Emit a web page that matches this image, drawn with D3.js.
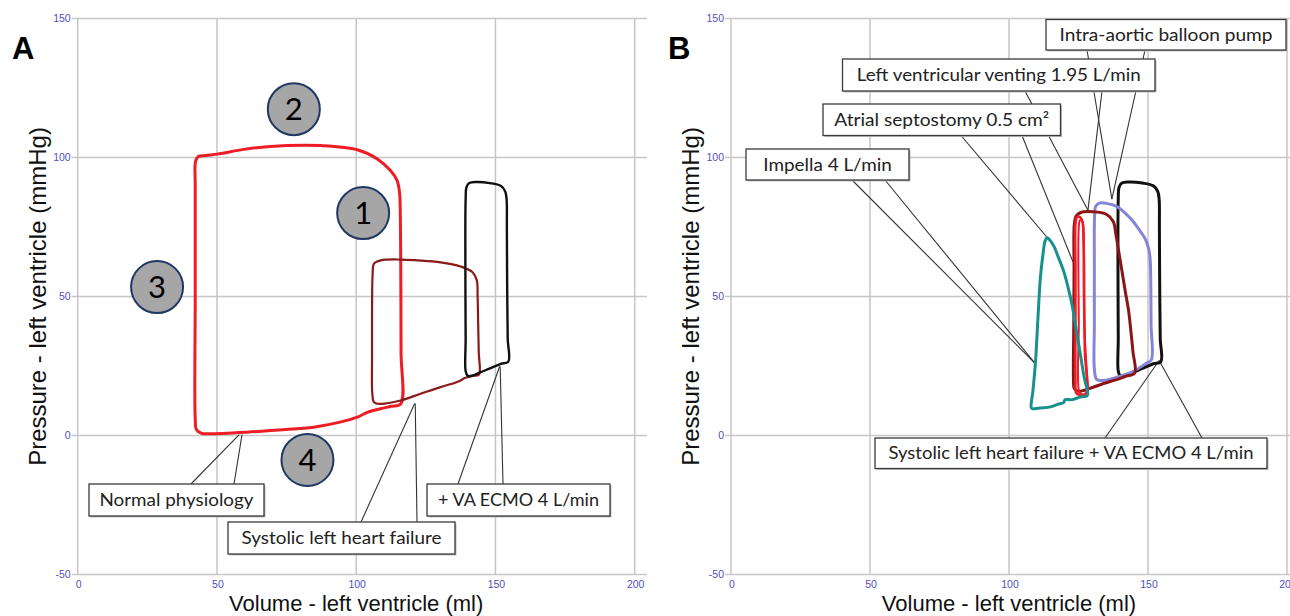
<!DOCTYPE html>
<html><head><meta charset="utf-8">
<script src="https://cdn.jsdelivr.net/npm/d3@7"></script>
<style>body{margin:0;background:#fff}svg{display:block}</style>
</head><body>
<svg id="c" width="1290" height="616"></svg>
<script>
// ---------- data (volume ml, pressure mmHg) ----------
const xTicks = [0, 50, 100, 150, 200];
const yTicks = [-50, 0, 50, 100, 150];

const normalLoop = [[116,11.4],[116.1,30],[116,60],[115.8,82],[115.6,87],[114.7,91.7],[112.3,95.3],[107.6,99.5],[100.4,102.8],[87.2,104.3],[75.2,104.3],[60.8,103.1],[50.6,101.3],[46,100.7],[43.2,100.3],[42.3,98.5],[42.2,90],[42.2,50],[42.2,6],[42.6,2.2],[44.5,0.8],[46.4,0.6],[60.8,1.2],[72,2],[84.7,3],[95,5],[100.4,6.6],[104,8.3],[108.7,9.6],[112.5,10.5]];
const heartFailureLoop = [[144.1,21.9],[144,30],[143.8,40],[143.6,50],[143.3,55.8],[141.7,58.8],[137.5,60.8],[130.3,62.3],[122,63],[116,63.3],[108.8,63],[106.4,61.8],[105.9,58],[105.7,45],[105.7,30],[105.8,15],[106.4,12],[108.7,11.4],[115.9,12.6],[123.1,15],[130.3,17.4],[135.5,19],[137.5,19.8],[139,20.7],[142.3,21.5]];
const vaEcmoLoop = [[154.6,26.5],[154.4,35],[154.2,55],[154.1,75],[154,85],[153.5,87.8],[151.9,89.8],[148,90.8],[143,91.2],[140.6,90.8],[139.6,89.3],[139.3,85],[139.2,60],[139.3,35],[139.3,23.2],[140,21.5],[141.5,21.5],[144.7,22.8],[148.5,24.3],[151.9,25.8]];
const iabpLoop = [[151.2,27.2],[151.1,40],[151,55],[150.8,63],[150.4,66.4],[149.5,69.5],[148.8,71.1],[146.5,74.5],[144.6,77.1],[141.5,80.3],[138.7,82.4],[135,83.5],[132.5,83.6],[131.2,82.5],[130.8,79],[130.7,60],[130.7,40],[130.7,24],[131.5,20.2],[133.5,19.8],[136.3,20.2],[140.5,21.5],[144.6,23],[149.4,26]];
const ventingLoop = [[145.2,22.4],[144.6,30],[144,36],[143,45],[141.8,52],[140.5,60],[139.5,66],[138.5,72],[137.5,77],[135,79.6],[130,80.5],[126,80.3],[124.2,79],[123.5,76],[123.4,60],[123.3,40],[123.2,20],[123.5,16.8],[125,15.9],[129.2,17],[134,18.7],[138.7,20.1],[142,21.3]];
const septostomyLoop = [[127.8,14.5],[127.3,30],[127,50],[126.8,70],[126.5,76.5],[125.6,78.5],[124.6,78.7],[124,77],[123.9,60],[123.9,40],[123.9,20],[124.2,15.3],[125.5,14.6]];
const septostomyLoop2 = [[127.4,15],[127.1,40],[126.8,74],[126.3,77.2],[125.5,77.4],[125.1,75],[125.1,40],[125.2,16],[126,15]];
const impellaLoop = [[128.2,14.4],[127,21],[125.6,29.6],[124.2,38],[122.6,47.4],[121.2,53.5],[119.6,59.3],[117.8,64],[116.1,68.2],[114.5,70.5],[113.7,71.1],[113,70],[112.2,65],[111.3,56.9],[110.4,42],[109.5,26],[108.6,16],[108,10],[108.5,9.6],[111,9.9],[114.9,10.3],[117.5,11.2],[119.6,11.8],[120.2,12.9],[122.6,12.9],[125.5,13.8]];

const phaseMarkers = [{n:"2", v:77.6, p:117.4},{n:"1", v:102.5, p:80},{n:"3", v:28.5, p:53.4},{n:"4", v:82.5, p:-8.8}];

// ---------- layout ----------
const Y0 = 574.5, Y150 = 18.5;
const panels = [
  {id:"A", x0:77.7, x200:634.7, right:647, letter:12, ytitle:46,
   loops:[{d:normalLoop,c:"#ee1c24",w:3},{d:heartFailureLoop,c:"#8b1a1a",w:2.2},{d:vaEcmoLoop,c:"#111",w:2.4}],
   callouts:[
    {t:"Normal physiology", box:[89,484,175,32], tl:154, side:"top", feet:[191,234], tg:[[58,0.3],[59,0.3]]},
    {t:"Systolic left heart failure", box:[228,522,227,32], tl:200, side:"top", feet:[361,417], tg:[[121,11.5],[121.2,11.5]]},
    {t:"+ VA ECMO 4 L/min", box:[427,484,183,32], tl:161, side:"top", feet:[458,503], tg:[[151.5,24.8],[151.7,24.8]]}
   ]},
  {id:"B", x0:731, x200:1287, right:1292, letter:668, ytitle:699,
   loops:[{d:vaEcmoLoop,c:"#111",w:3},{d:iabpLoop,c:"#8585d8",w:3},{d:ventingLoop,c:"#8b1515",w:3},{d:septostomyLoop,c:"#ee1c24",w:2.6},{d:septostomyLoop2,c:"#ee1c24",w:2},{d:impellaLoop,c:"#17918e",w:3}],
   callouts:[
    {t:"Intra-aortic balloon pump", box:[1046,19.5,240,30.5], tl:213, side:"bottom", feet:[1087,1145], tg:[[137,85],[137,85]]},
    {t:"Left ventricular venting 1.95 L/min", box:[842.5,59,312.5,32], tl:284, side:"bottom", feet:[1025,1102], tg:[[128.4,81],[128.4,81]]},
    {t:"Atrial septostomy 0.5 cm\u00B2", box:[823,104,237.5,31.5], tl:215, side:"bottom", feet:[961,1022], tg:[[113.6,71.4],[123,62.5]]},
    {t:"Impella 4 L/min", box:[746,149,163,31], tl:128.5, side:"bottom", feet:[852,885], tg:[[109.3,26],[109.3,26]]},
    {t:"Systolic left heart failure + VA ECMO 4 L/min", box:[875,438,392,30.5], tl:365, side:"top", feet:[1105,1202], tg:[[154,27],[154,27]]}
   ]}
];

const svg = d3.select("#c");
const y = d3.scaleLinear().domain([-50,150]).range([Y0,Y150]);
const GRID = "#c6c6c6", TICK = "#5050c0";

panels.forEach((P, pi) => {
  const x = d3.scaleLinear().domain([0,200]).range([P.x0,P.x200]);
  const g = svg.append("g");
  // grid
  g.selectAll("line.h").data(yTicks).join("line")
    .attr("x1", d => P.x0 - 6).attr("x2", P.right)
    .attr("y1", d => y(d)).attr("y2", d => y(d))
    .attr("stroke", GRID).attr("stroke-width", 1.5);
  g.selectAll("line.v").data(xTicks).join("line")
    .attr("x1", d => x(d)).attr("x2", d => x(d))
    .attr("y1", y(150)).attr("y2", y(-50))
    .attr("stroke", GRID).attr("stroke-width", 1.5);
  // tick labels
  g.selectAll("text.yt").data(yTicks).join("text")
    .attr("x", P.x0 - 7).attr("y", d => y(d) + 3.5)
    .attr("text-anchor","end").attr("font-family","Liberation Sans, Arial, sans-serif")
    .attr("font-size", 10.5).attr("fill", TICK).text(d => d);
  g.selectAll("text.xt").data(xTicks).join("text")
    .attr("x", d => x(d) + 1).attr("y", 588)
    .attr("text-anchor","middle").attr("font-family","Liberation Sans, Arial, sans-serif")
    .attr("font-size", 10.5).attr("fill", TICK).text(d => d);
  // axis titles
  g.append("text").attr("x", x(100)).attr("y", 611)
    .attr("text-anchor","middle").attr("font-family","Liberation Sans, Arial, sans-serif")
    .attr("font-size", 22).attr("fill","#111").text("Volume - left ventricle (ml)");
  g.append("text").attr("transform", `translate(${P.ytitle},${y(50)}) rotate(-90)`)
    .attr("text-anchor","middle").attr("font-family","Liberation Sans, Arial, sans-serif")
    .attr("font-size", 24).attr("fill","#111").text("Pressure - left ventricle (mmHg)");
  // panel letter
  g.append("text").attr("x", P.letter).attr("y", 59)
    .attr("font-family","Liberation Sans, Arial, sans-serif").attr("font-weight","bold")
    .attr("font-size", 31).attr("fill","#000").text(P.id);

  // leader lines
  const lg = g.append("g").attr("stroke","#333").attr("stroke-width",1.1);
  P.callouts.forEach(c => {
    const [bx,by,bw,bh] = c.box;
    const fy = c.side === "top" ? by : by + bh;
    c.feet.forEach((fx,i) => {
      lg.append("line").attr("x1", fx).attr("y1", fy)
        .attr("x2", x(c.tg[i][0])).attr("y2", y(c.tg[i][1]));
    });
  });

  // loops
  const line = d3.line().x(d => x(d[0])).y(d => y(d[1])).curve(d3.curveCatmullRomClosed.alpha(0.5));
  P.loops.forEach(L => {
    g.append("path").attr("d", line(L.d)).attr("fill","none")
      .attr("stroke", L.c).attr("stroke-width", L.w).attr("stroke-linejoin","round");
  });

  // callout boxes
  P.callouts.forEach(c => {
    const [bx,by,bw,bh] = c.box;
    g.append("rect").attr("x", bx+1.5).attr("y", by+1.5).attr("width", bw).attr("height", bh)
      .attr("fill","#bdbdbd");
    g.append("rect").attr("x", bx).attr("y", by).attr("width", bw).attr("height", bh)
      .attr("fill","#fff").attr("stroke","#3a3a3a").attr("stroke-width",1.3);
    g.append("text").attr("x", bx + bw/2).attr("y", by + bh/2 + 6)
      .attr("text-anchor","middle").attr("font-family","Lato, sans-serif")
      .attr("font-size", 18).attr("fill","#222")
      .attr("textLength", c.tl).attr("lengthAdjust","spacingAndGlyphs").text(c.t);
  });

  // phase markers (panel A)
  if (P.id === "A") {
    const m = g.selectAll("g.m").data(phaseMarkers).join("g")
      .attr("transform", d => `translate(${x(d.v)},${y(d.p)})`);
    m.append("circle").attr("r", 26).attr("fill","#a6a6a6").attr("stroke","#1f3864").attr("stroke-width",2);
    m.append("text").attr("y", 11).attr("text-anchor","middle")
      .attr("font-family","Lato, sans-serif").attr("font-size", 31).attr("fill","#000").text(d => d.n);
  }
});
</script>
</body></html>
